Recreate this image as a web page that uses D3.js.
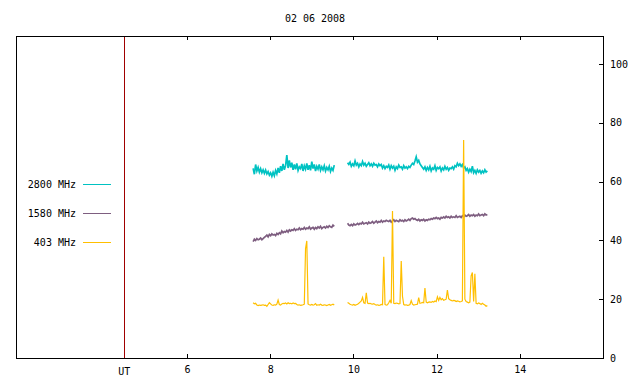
<!DOCTYPE html>
<html>
<head>
<meta charset="utf-8">
<script src="https://cdn.jsdelivr.net/npm/d3@7"></script>
<style>
  body { margin: 0; background: #fff; }
  svg { display: block; }
  text { font-family: "DejaVu Sans Mono", monospace; font-size: 10px; fill: #000; }
</style>
</head>
<body>
<div id="chartDiv"></div>
<script>
//////////
// DATA //
//////////

const title = "02 06 2008";
const xTicks = [6, 8, 10, 12, 14];
const yTicks = [0, 20, 40, 60, 80, 100];
const utHour = 4.49;

const seriesNames = ["2800 MHz", "1580 MHz", "403 MHz"];
const seriesColors = ["#00c2c2", "#7e5e80", "#ffbf00"];

// two recording runs, sampled every 0.03 h
const runStart = [7.59, 9.86];
const sampleStep = 0.03;

const f2800a = [64.5, 62.5, 65.8, 63.6, 64.8, 63.2, 64.4, 63.0, 64.0, 62.8, 63.9, 62.6, 63.4, 62.2, 63.0, 61.8,
  63.2, 62.0, 63.8, 62.6, 64.6, 63.0, 65.2, 63.6, 66.0, 64.0, 65.4, 69.0, 64.6, 67.2, 64.8, 66.4, 64.0, 65.8,
  64.2, 66.2, 63.8, 65.0, 64.4, 66.0, 63.6, 65.4, 64.2, 66.2, 64.0, 65.6, 63.8, 66.8, 64.4, 65.8, 63.6, 65.2,
  64.2, 65.8, 63.8, 65.0, 64.0, 65.4, 63.6, 64.8, 64.0, 65.2, 63.4, 64.6, 63.8, 65.6];
const f2800b = [66.4, 65.8, 66.6, 65.2, 66.0, 65.4, 67.0, 65.6, 66.2, 65.0, 66.0, 65.4, 66.8, 65.6, 66.2, 65.2,
  65.8, 66.4, 65.4, 66.0, 65.2, 66.2, 65.6, 65.8, 65.0, 66.0, 65.4, 65.8,
  64.6, 65.4, 64.4, 65.2, 64.8, 65.6, 64.2, 65.4, 64.6, 65.2, 63.8, 65.0, 64.4, 65.6, 64.8, 65.0, 64.2, 65.4,
  64.6, 65.0, 64.4, 65.2, 64.8,
  65.6, 66.2, 65.8, 67.0, 68.4, 66.6, 67.2, 66.0, 65.4, 64.8,
  64.2, 65.0, 63.8, 64.8, 64.0, 65.2, 63.6, 64.6, 64.2, 65.4, 63.8, 64.8, 64.4, 65.0, 63.6, 64.6, 64.0, 65.2,
  64.2, 64.8, 63.8, 64.6, 64.4, 65.0, 64.2, 65.4,
  65.0, 66.2, 65.4, 66.0, 65.2, 65.8, 64.6, 65.0,
  63.8, 64.4, 63.2, 64.2, 63.4, 65.2, 63.0, 63.8, 62.8, 64.0, 63.2, 63.8, 62.8, 63.6, 63.0, 64.0, 63.2, 63.6];

const f1580a = [39.6, 40.4, 40.0, 40.6, 40.2, 40.4, 40.8, 40.2, 40.6, 41.0,
  41.4, 41.8, 41.2, 42.0, 41.6, 42.2, 41.8, 42.0, 41.6, 42.4,
  42.0, 42.6, 42.2, 43.2, 42.6, 43.0, 42.8, 43.4, 42.8, 43.6,
  43.2, 43.6, 43.4, 44.0, 43.4, 43.8, 43.6, 44.2, 43.6, 44.0,
  43.8, 44.4, 43.8, 44.2, 44.0, 44.6, 43.8, 44.2, 44.4, 43.8,
  44.4, 44.0, 44.6, 44.2, 44.8, 44.0, 44.4, 44.6, 44.2, 44.8,
  44.4, 45.0, 44.6, 44.4, 45.2, 44.8];
const f1580b = [45.8, 45.2, 45.0, 45.4, 45.0, 45.6, 45.2, 45.4, 45.8, 45.4,
  45.8, 45.6, 46.2, 45.6, 45.8, 46.0, 45.6, 46.2, 45.8, 46.0,
  46.4, 45.8, 46.2, 46.6, 46.0, 46.4, 46.2, 46.8, 46.2, 46.6,
  46.4, 46.8, 46.6, 46.4, 46.8, 46.2, 46.6, 47.0, 46.4, 46.8,
  46.6, 46.4, 47.0, 46.6, 46.8, 46.4, 47.0, 46.6, 46.8, 47.2,
  46.8, 47.4, 47.6, 47.2, 47.4, 47.0, 46.8, 47.2, 46.6, 47.0,
  46.8, 47.2, 46.6, 47.0, 46.8, 47.2, 47.0, 47.4, 47.2, 47.6,
  47.4, 47.8, 47.4, 47.6, 47.2, 47.8, 47.6, 48.0, 47.6, 48.2,
  47.8, 48.0, 47.6, 48.2, 47.8, 48.0, 47.8, 48.4, 47.8, 48.0,
  48.2, 47.8, 48.4, 48.0, 48.6, 48.2, 48.4, 48.8, 48.2, 48.6,
  48.4, 48.8, 48.2, 48.6, 48.4, 49.0, 48.4, 48.6, 48.8, 48.4, 49.0, 48.6, 48.8];

const f403a = [18.8, 18.4, 18.6, 18.0, 17.8, 18.0, 17.9, 18.0, 18.1, 17.9,
  18.0, 17.6, 18.2, 18.8, 18.4, 18.0, 17.9, 18.1, 18.0, 18.3,
  19.7, 18.2, 18.0, 18.4, 18.6, 18.5, 18.7, 18.4, 18.8, 18.5,
  18.6, 18.4, 18.7, 18.5, 18.6, 18.2, 18.0, 18.1, 17.9, 18.0,
  18.1, 18.3, 37.2, 39.8, 18.4, 18.1, 18.0, 18.2, 18.0, 18.1,
  18.5, 17.9, 18.1, 18.0, 18.3, 18.0, 17.9, 18.1, 18.0, 17.8,
  18.0, 18.2, 17.9, 18.1, 18.3, 18.0];
const f403b = [18.9, 18.6, 18.3, 18.1, 18.0, 18.2, 17.9, 18.1, 18.3, 18.6,
  19.0, 19.4, 20.6, 18.8, 18.6, 22.2, 18.7, 18.5, 18.6, 18.4,
  18.3, 18.5, 18.2, 18.0, 18.1, 17.9, 18.0, 18.2, 18.1, 34.4,
  18.2, 18.0, 18.1, 18.8, 19.6, 18.6, 50.0, 18.6, 18.5, 18.7,
  18.6, 18.4, 18.5, 33.0, 21.0, 18.2, 18.0, 18.1, 17.9, 18.0,
  18.2, 19.5, 18.3, 18.0, 18.1, 18.2, 18.3, 20.5, 18.6, 18.7,
  18.9, 18.8, 23.8, 19.0, 18.8, 19.0, 19.1, 18.9, 19.2, 19.0,
  19.4, 19.2, 20.8, 19.6, 20.6, 19.8, 20.2, 19.6, 19.8, 20.0,
  23.1, 20.2, 19.8, 19.6, 19.4, 19.6, 19.5, 19.2, 19.4, 19.3,
  19.1, 19.2, 19.4, 74.1, 20.0, 19.2, 19.0, 18.8, 19.0, 27.9,
  29.1, 19.2, 28.6, 18.6, 18.4, 18.7, 18.5, 18.2, 18.6, 18.3, 18.0, 17.6, 17.8];

const seriesRuns = [[f2800a, f2800b], [f1580a, f1580b], [f403a, f403b]];
const seriesWidths = [1.7, 1.7, 1.2];

///////////
// SETUP //
///////////

const width = 640, height = 384;
const margin = {top: 36, right: 37, bottom: 26, left: 16};

const svg = d3.select("#chartDiv").append("svg")
  .attr("width", width)
  .attr("height", height);

const x = d3.scaleLinear()
  .domain([1.89, 16.0])
  .range([margin.left, width - margin.right]);

const y = d3.scaleLinear()
  .domain([0, 109.5])
  .range([height - margin.bottom, margin.top]);

svg.append("text")
  .attr("x", 315)
  .attr("y", 22)
  .attr("text-anchor", "middle")
  .text(title);

//////////
// AXES //
//////////

// bottom ticks point inward, labels below
const xAxis = d3.axisBottom(x).tickValues(xTicks).tickSizeInner(-4).tickSizeOuter(0).tickPadding(8);
svg.append("g")
  .attr("class", "x axis")
  .attr("transform", "translate(0," + (height - margin.bottom) + ")")
  .call(xAxis);

// mirrored ticks on top, no labels
svg.append("g")
  .attr("class", "x axis top")
  .attr("transform", "translate(0," + margin.top + ")")
  .call(d3.axisTop(x).tickValues(xTicks).tickSizeInner(-4).tickSizeOuter(0).tickFormat(""));

const yAxis = d3.axisRight(y).tickValues(yTicks).tickSizeInner(-4).tickSizeOuter(0).tickPadding(7);
svg.append("g")
  .attr("class", "y axis")
  .attr("transform", "translate(" + (width - margin.right) + ",0)")
  .call(yAxis);

svg.selectAll(".axis .domain").remove();
svg.selectAll(".axis line").attr("stroke", "#000").attr("shape-rendering", "crispEdges");
svg.selectAll(".axis text").style("font-family", "DejaVu Sans Mono, monospace").style("font-size", "10px");
svg.selectAll(".y.axis text").attr("text-anchor", "start");

// UT marker
svg.append("line")
  .attr("x1", x(utHour)).attr("x2", x(utHour))
  .attr("y1", margin.top).attr("y2", height - margin.bottom)
  .attr("stroke", "#a00000")
  .attr("shape-rendering", "crispEdges");

svg.append("text")
  .attr("x", x(utHour))
  .attr("y", height - margin.bottom + 17)
  .attr("text-anchor", "middle")
  .text("UT");

// frame
svg.append("rect")
  .attr("x", margin.left)
  .attr("y", margin.top)
  .attr("width", width - margin.right - margin.left)
  .attr("height", height - margin.bottom - margin.top)
  .attr("fill", "none")
  .attr("stroke", "#000")
  .attr("shape-rendering", "crispEdges");

///////////
// LINES //
///////////

const line = d3.line()
  .x((d) => { return x(d.t); })
  .y((d) => { return y(d.v); });

seriesRuns.forEach((runs, s) => {
  runs.forEach((vals, r) => {
    const pts = vals.map((v, i) => { return {t: runStart[r] + i * sampleStep, v: v}; });
    svg.append("path")
      .datum(pts)
      .attr("fill", "none")
      .attr("stroke", seriesColors[s])
      .attr("stroke-width", seriesWidths[s])
      .attr("d", line);
  });
});

////////////
// LEGEND //
////////////

const legend = svg.append("g").attr("class", "legend");
seriesNames.forEach((name, i) => {
  const ly = 184 + i * 29;
  legend.append("text")
    .attr("x", 76)
    .attr("y", ly)
    .attr("dy", "0.35em")
    .attr("text-anchor", "end")
    .text(name);
  legend.append("line")
    .attr("x1", 83).attr("x2", 111)
    .attr("y1", ly).attr("y2", ly)
    .attr("stroke", seriesColors[i])
    .attr("shape-rendering", "crispEdges");
});
</script>
</body>
</html>
